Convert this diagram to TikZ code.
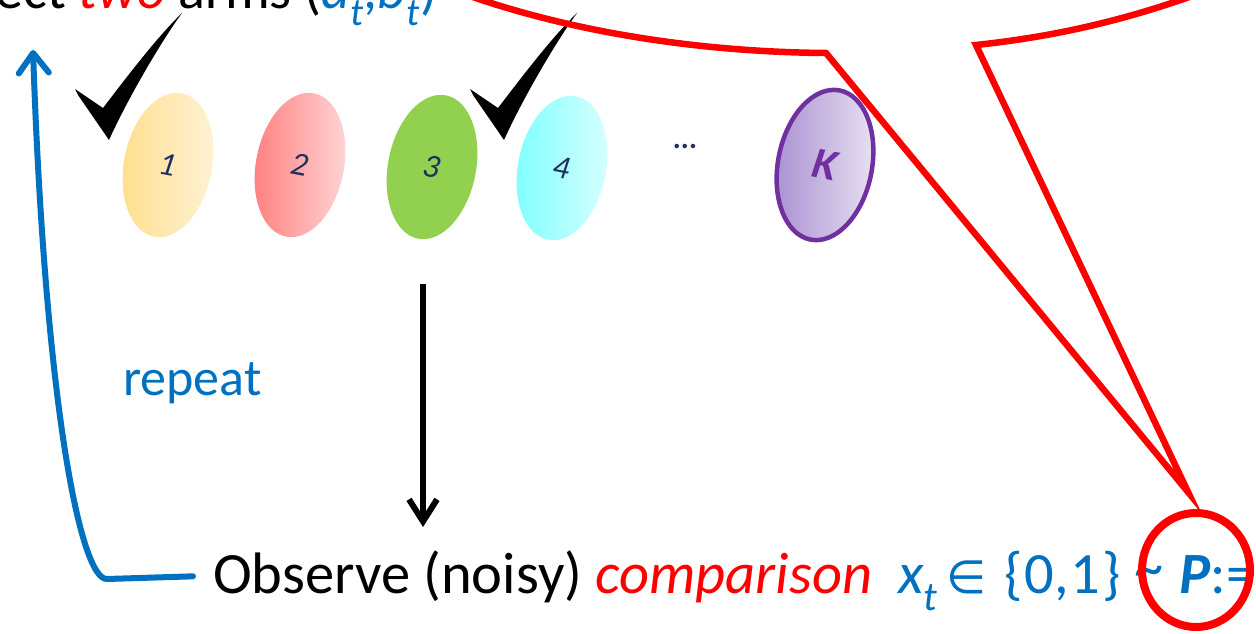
\documentclass[tikz,border=0pt]{standalone}
\usepackage{fontspec}
\setmainfont{Carlito}
\newfontfamily\symfam{DejaVu Sans}
\usetikzlibrary{arrows.meta,positioning,calc,shapes.geometric}
\definecolor{loopblue}{RGB}{0,112,192}
\definecolor{navy}{RGB}{31,48,96}
\definecolor{kpurple}{RGB}{112,48,160}
\definecolor{armgreen}{RGB}{146,208,80}
\definecolor{oneleft}{RGB}{255,222,140}
\definecolor{oneright}{RGB}{255,243,216}
\definecolor{twoleft}{RGB}{255,125,125}
\definecolor{tworight}{RGB}{255,216,216}
\definecolor{fourleft}{RGB}{125,255,255}
\definecolor{fourright}{RGB}{218,255,255}
\definecolor{kleft}{RGB}{168,142,208}
\definecolor{kright}{RGB}{234,228,244}

\begin{document}
\begin{tikzpicture}[x=1pt,y=-1pt,every node/.style={inner sep=0pt},
    big/.style={font=\fontsize{58.5}{62}\selectfont},
    arm/.style={ellipse,minimum width=88pt,minimum height=146pt,rotate=-11,text=navy,font=\fontsize{33}{36}\selectfont\itshape},
    pics/checkmark/.style={code={
      \fill (0,0) -- (28,19) .. controls (45,-3) and (80,-50) .. (107,-76)
        .. controls (88,-50) and (55,5) .. (34,51) -- (3,6) -- cycle;}}]
  \useasboundingbox (0,0) rectangle (1256,634);

  % the arms
  \node[arm,left color=oneleft,right color=oneright] (a1) at (168,165) {1};
  \node[arm,left color=twoleft,right color=tworight] (a2) at (300,165) {2};
  \node[arm,fill=armgreen] (a3) at (432,167) {3};
  \node[arm,left color=fourleft,right color=fourright] (a4) at (562,168) {4};
  \node[text=navy,font=\fontsize{30}{32}\selectfont\bfseries] (dots) at (685,146) {...};
  \node[arm,minimum width=94pt,minimum height=152pt,left color=kleft,right color=kright,draw=kpurple,line width=4.5pt,text=kpurple,font=\fontsize{44}{48}\selectfont\bfseries\itshape] (ak) at (825,165) {K};

  \pic at (75,89) {checkmark};
  \pic at (470,89) {checkmark};

  % texts
  \node[font=\fontsize{56}{60}\selectfont,anchor=base west] (sel) at (-71,9) {Select \textcolor{red}{\textit{two}} arms (\textcolor{loopblue}{\textit{a}\textsubscript{\textit{t}},\textit{b}\textsubscript{\textit{t}})}};
  \node[font=\fontsize{52}{56}\selectfont,text=loopblue,anchor=base west] (rep) at (123,395) {repeat};
  \node[big,anchor=base west] (obs) at (213,593) {Observe (noisy) \textcolor{red}{\textit{comparison}}};
  \node[big,text=loopblue,anchor=base west] (xt) at (898,593) {\textit{x}\textsubscript{\textit{t}}\hspace{8pt}{\symfam\fontsize{46}{50}\selectfont ∈}\hspace{18pt}\{\kern2pt 0,\kern2pt 1\kern2pt\}\hspace{14pt}\raisebox{6pt}{\textasciitilde}\hspace{15pt}\textbf{\textit{P}}:=};

  % arrows
  \coordinate (downtop) at (423,284);
  \coordinate (downend) at (423,527);
  \draw[line width=6pt,-{Straight Barb[length=22pt,width=28pt]}] (downtop) -- (downend);
  \coordinate (looptop) at (33,50);
  \draw[loopblue,line width=6pt,line cap=round,-{Straight Barb[length=20pt,width=30pt,round]}]
    ([xshift=-20pt]obs.west) -- (107,579) .. controls (80,580) and (45,400) .. (looptop);

  % callout
  \coordinate (calltip) at (1188,492);
  \draw[red,line width=6.5pt,miter limit=20] (440,-15) .. controls (560,32) and (700,52) .. (826,53)
    -- (calltip) -- (976,45) .. controls (1060,36) and (1140,18) .. (1240,-22);
  \node[ellipse,draw=red,line width=8pt,minimum width=108pt,minimum height=114pt] (ring) at (1196,570) {};
\end{tikzpicture}
\end{document}
